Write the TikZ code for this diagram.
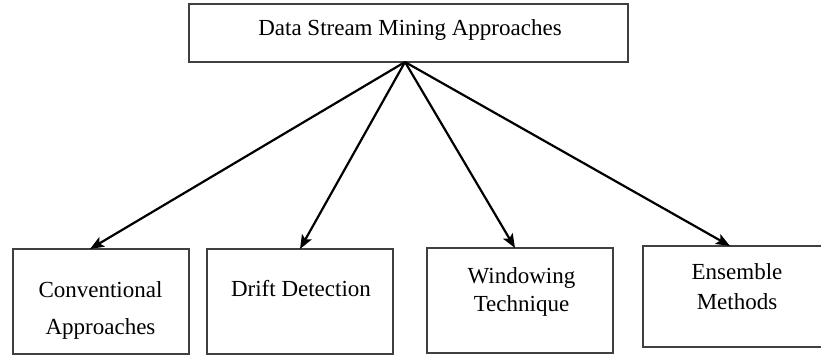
\documentclass[tikz,border=0pt]{standalone}
\usepackage{fontspec}
\setmainfont{Liberation Serif}
\usetikzlibrary{arrows.meta,calc}
\tikzset{box/.style={draw=black!75, line width=1.6pt, inner sep=0pt, outer sep=0pt},
  lbl/.style={font=\fontsize{23}{28}\selectfont, inner sep=0pt, align=center},
  link/.style={line width=2.2pt, -{Stealth[length=14pt,width=11pt,inset=3pt]}}}

\begin{document}
\begin{tikzpicture}[x=1pt,y=-1pt]
\useasboundingbox (0,0) rectangle (821,355);

\node[box, minimum width=439pt, minimum height=58pt] (dsm) at (408.5,33) {};
\node[box, minimum width=176pt, minimum height=105pt] (conv) at (101,301.5) {};
\node[box, minimum width=186pt, minimum height=105pt] (drift) at (300,301.5) {};
\node[box, minimum width=186pt, minimum height=105pt] (win) at (520,300.5) {};
\node[box, minimum width=186pt, minimum height=101pt] (ens) at (736,296.5) {};

\node[lbl, anchor=base] (dsmtxt) at (410,36) {Data Stream Mining Approaches};
\node[lbl, font=\fontsize{23}{37}\selectfont] (convtxt) at (100.5,310) {Conventional\\Approaches};
\node[lbl, anchor=base] (drifttxt) at (301,296.7) {Drift Detection};
\node[lbl] (wintxt) at (521.5,291.7) {Windowing\\Technique};
\node[lbl, font=\fontsize{23}{30}\selectfont] (enstxt) at (737,286.2) {Ensemble\\Methods};

\coordinate (hub) at ($(dsm.south)+(-3.5,0)$);
\draw[link] (hub) -- ($(conv.north)+(-11,0)$);
\draw[link] (hub) -- (drift.north);
\draw[link] (hub) -- ($(win.north)+(-5,0)$);
\draw[link] (hub) -- ($(ens.north)+(-6,0)$);

\end{tikzpicture}
\end{document}
